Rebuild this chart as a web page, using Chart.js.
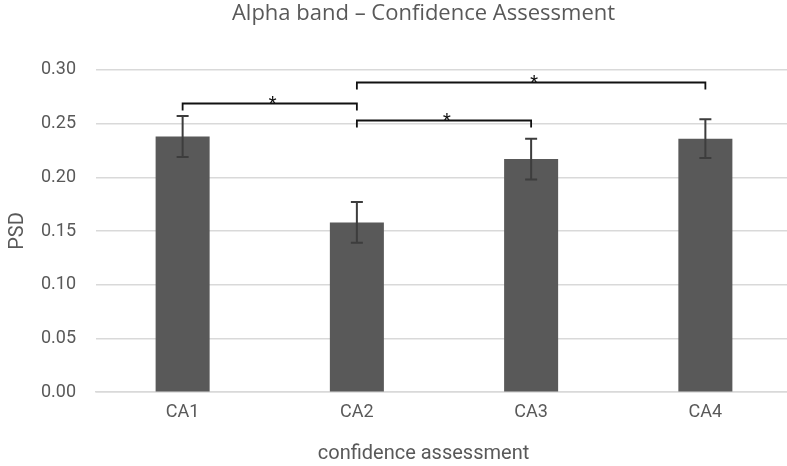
<!DOCTYPE html>
<html>
<head>
<meta charset="utf-8">
<title>Alpha band – Confidence Assessment</title>
<script src="https://cdn.jsdelivr.net/npm/chart.js@4.4.1/dist/chart.umd.min.js"></script>
<style>
  html, body { margin: 0; padding: 0; background: #ffffff; }
  #wrap { width: 787px; height: 466px; overflow: hidden; position: relative; }
  canvas { display: block; }
</style>
</head>
<body>
<div id="wrap"><canvas id="chart" width="847" height="466"></canvas></div>
<script>
// Mean alpha-band PSD per confidence-assessment level, with error bars
const categories = ['CA1', 'CA2', 'CA3', 'CA4'];
const psdMean = [0.238, 0.158, 0.217, 0.236];
const psdError = [0.019, 0.019, 0.019, 0.018];

// Significance brackets between levels (category indices) and their height in PSD units
const bracketFrom = [0, 1, 1];
const bracketTo = [1, 2, 3];
const bracketLevel = [0.269, 0.253, 0.2885];
const bracketMark = ['*', '*', '*'];

const GREY_TEXT = '#595959';

// Error bars drawn from psdMean ± psdError on the value scale
const errorBars = {
  id: 'errorBars',
  afterDatasetsDraw(chart) {
    const { ctx, scales: { y } } = chart;
    const meta = chart.getDatasetMeta(0);
    ctx.save();
    ctx.strokeStyle = '#3d3d3d';
    ctx.lineWidth = 2;
    meta.data.forEach((bar, i) => {
      const x = bar.x;
      const top = y.getPixelForValue(psdMean[i] + psdError[i]);
      const bot = y.getPixelForValue(psdMean[i] - psdError[i]);
      const cap = 6;
      ctx.beginPath();
      ctx.moveTo(x, top); ctx.lineTo(x, bot);
      ctx.moveTo(x - cap, top); ctx.lineTo(x + cap, top);
      ctx.moveTo(x - cap, bot); ctx.lineTo(x + cap, bot);
      ctx.stroke();
    });
    ctx.restore();
  }
};

// Significance brackets with an asterisk above each
const sigBrackets = {
  id: 'sigBrackets',
  afterDatasetsDraw(chart) {
    const { ctx, scales: { x, y } } = chart;
    const drop = 7;
    ctx.save();
    ctx.strokeStyle = '#111111';
    ctx.fillStyle = '#111111';
    ctx.lineWidth = 1.8;
    ctx.font = '18px Roboto, "Liberation Sans", sans-serif';
    ctx.textAlign = 'center';
    ctx.textBaseline = 'alphabetic';
    bracketFrom.forEach((from, i) => {
      const x1 = x.getPixelForValue(from);
      const x2 = x.getPixelForValue(bracketTo[i]);
      const yl = Math.round(y.getPixelForValue(bracketLevel[i])) + 0.5;
      ctx.beginPath();
      ctx.moveTo(x1, yl + drop);
      ctx.lineTo(x1, yl);
      ctx.lineTo(x2, yl);
      ctx.lineTo(x2, yl + drop);
      ctx.stroke();
      ctx.fillText(bracketMark[i], (x1 + x2) / 2 + 3, yl + 5);
    });
    ctx.restore();
  }
};

new Chart(document.getElementById('chart'), {
  type: 'bar',
  data: {
    labels: categories,
    datasets: [{
      label: 'PSD',
      data: psdMean,
      backgroundColor: '#595959',
      borderWidth: 0,
      barPercentage: 0.31,
      categoryPercentage: 1.0
    }]
  },
  options: {
    responsive: false,
    animation: false,
    devicePixelRatio: 1,
    layout: { padding: 0 },
    plugins: {
      legend: { display: false },
      tooltip: { enabled: false },
      title: {
        display: true,
        text: 'Alpha band – Confidence Assessment',
        color: GREY_TEXT,
        font: { family: '"Open Sans", Roboto, sans-serif', size: 22, weight: 'normal' },
        padding: { top: 0.5, bottom: 43 }
      },
      subtitle: {
        display: true,
        position: 'bottom',
        text: 'confidence assessment',
        color: GREY_TEXT,
        font: { family: 'Roboto, "Liberation Sans", sans-serif', size: 20, weight: 'normal' },
        padding: { top: 9.2, bottom: 0 }
      }
    },
    scales: {
      x: {
        grid: { display: false, drawTicks: false },
        border: { display: true, color: '#d9d9d9', width: 1.5 },
        ticks: {
          color: GREY_TEXT,
          padding: 9.5,
          font: { family: 'Roboto, "Liberation Sans", sans-serif', size: 18 }
        }
      },
      y: {
        min: 0,
        max: 0.3,
        afterFit(scale) { scale.width = 95.5; },
        grid: { color: '#d9d9d9', lineWidth: 1.5, drawTicks: false },
        border: { display: false },
        ticks: {
          stepSize: 0.05,
          color: GREY_TEXT,
          padding: 19.5,
          font: { family: 'Roboto, "Liberation Sans", sans-serif', size: 18 },
          callback: (v) => Number(v).toFixed(2)
        },
        title: {
          display: true,
          text: 'PSD',
          color: GREY_TEXT,
          font: { family: 'Roboto, "Liberation Sans", sans-serif', size: 20 },
          padding: { top: 5.5, bottom: 0 }
        }
      },
      yRight: {
        position: 'right',
        display: true,
        afterFit(scale) { scale.width = 54.5; },
        grid: { display: false, drawTicks: false },
        border: { display: false },
        ticks: { display: false }
      }
    }
  },
  plugins: [errorBars, sigBrackets]
});
</script>
</body>
</html>
